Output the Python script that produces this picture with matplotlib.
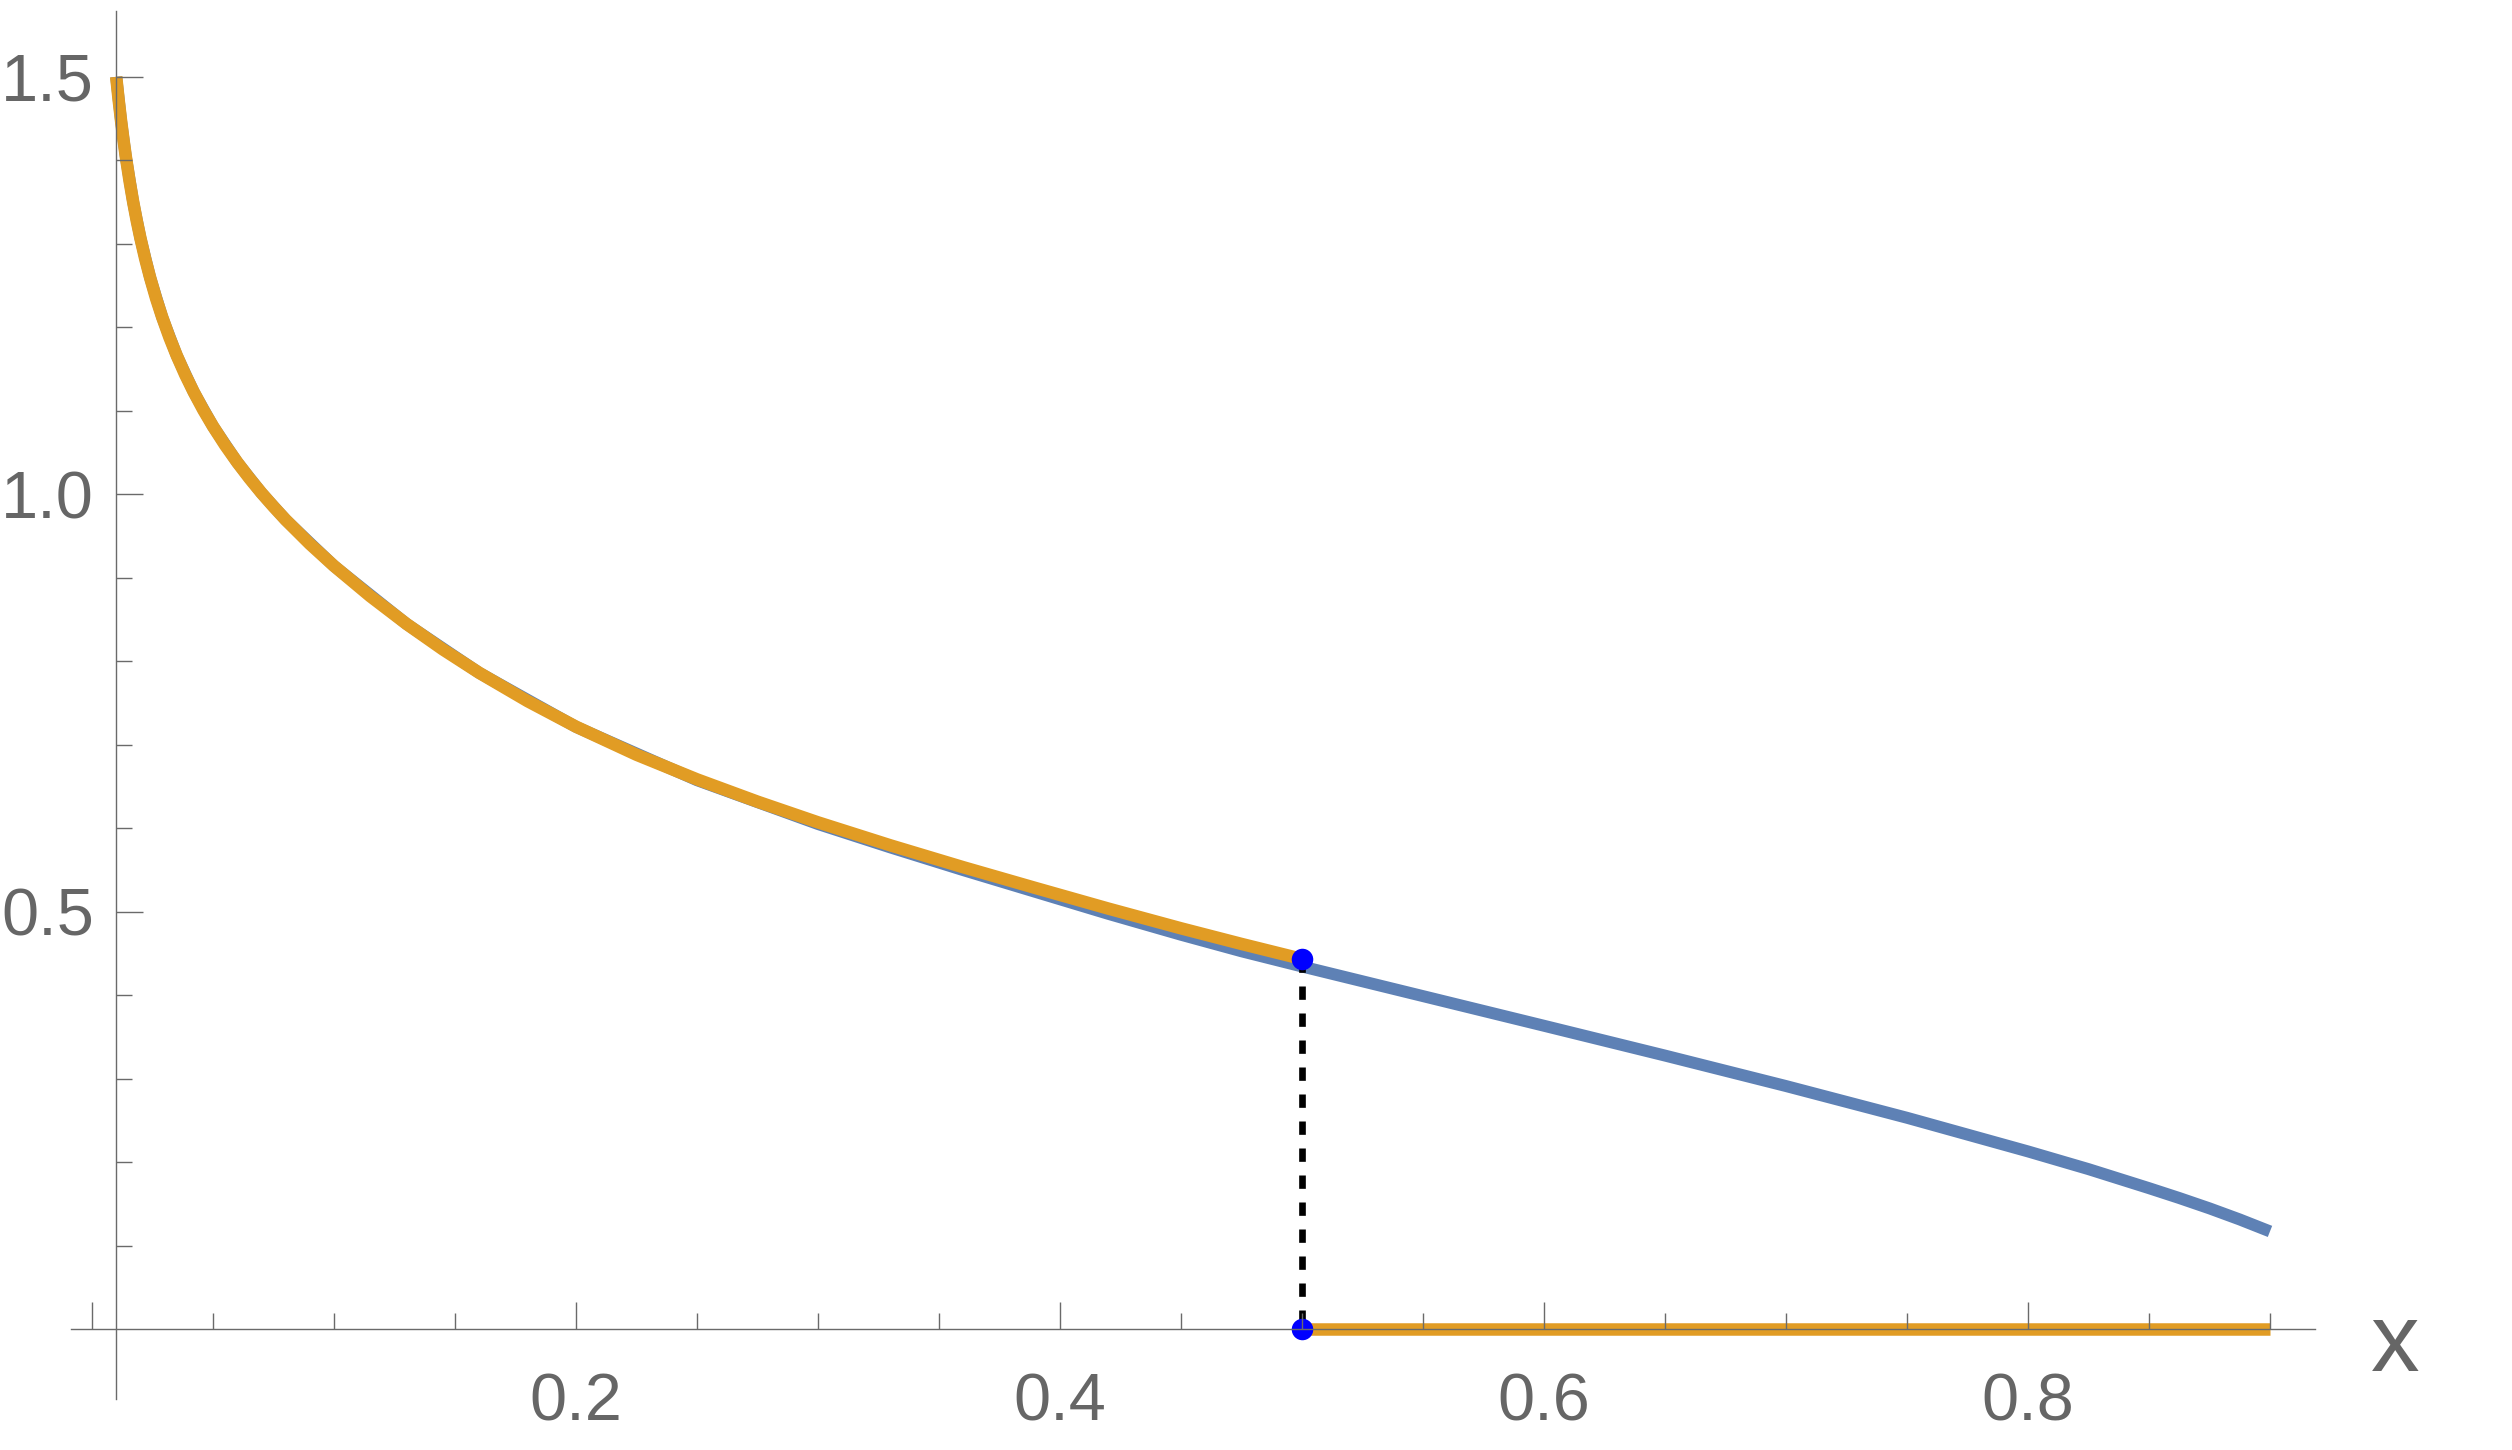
import matplotlib
matplotlib.use("Agg")
import matplotlib.pyplot as plt
from matplotlib.ticker import FixedLocator, FixedFormatter

# ---- data ----
orange_x = [0.010, 0.011, 0.012, 0.013, 0.014, 0.0155, 0.017, 0.0185, 0.020, 0.022,
            0.024, 0.0265, 0.029, 0.032, 0.035, 0.0385, 0.042, 0.046, 0.050, 0.055,
            0.060, 0.065, 0.070, 0.075, 0.080, 0.090, 0.100, 0.115, 0.130, 0.145,
            0.160, 0.180, 0.200, 0.225, 0.250, 0.275, 0.300, 0.330, 0.360, 0.390,
            0.420, 0.450, 0.475, 0.500]
orange_y = [1.5000, 1.4725, 1.4475, 1.4247, 1.4039, 1.3755, 1.3503, 1.3274, 1.3069, 1.2818,
            1.2597, 1.2344, 1.2122, 1.1879, 1.1663, 1.1433, 1.1227, 1.1010, 1.0814, 1.0589,
            1.0384, 1.0194, 1.0017, 0.9852, 0.9695, 0.9406, 0.9142, 0.8779, 0.8447, 0.8142,
            0.7862, 0.7523, 0.7217, 0.6881, 0.6586, 0.6319, 0.6071, 0.5795, 0.5534, 0.5284,
            0.5038, 0.4802, 0.4615, 0.4435]

blue_x = [0.010, 0.012, 0.014, 0.017, 0.020, 0.024, 0.029, 0.035, 0.042, 0.050,
          0.060, 0.070, 0.080, 0.100, 0.130, 0.160, 0.200, 0.250, 0.300, 0.330,
          0.360, 0.390, 0.420, 0.450, 0.475, 0.500, 0.550, 0.600, 0.650, 0.700,
          0.750, 0.800, 0.825, 0.850, 0.8625, 0.875, 0.8875, 0.900]
blue_y = [1.5000, 1.4475, 1.4039, 1.3503, 1.3069, 1.2597, 1.2122, 1.1663, 1.1227, 1.0814,
          1.0384, 1.0017, 0.9695, 0.9142, 0.8447, 0.7862, 0.7215, 0.6576, 0.6051, 0.5770,
          0.5499, 0.5237, 0.4975, 0.4725, 0.4527, 0.4345, 0.3990, 0.3635, 0.3278, 0.2913,
          0.2533, 0.2130, 0.1918, 0.1690, 0.1572, 0.1448, 0.1315, 0.1172]

step_x = [0.5, 0.9]
step_y = [0.0, 0.0]

point_x = [0.5, 0.5]
point_y = [0.4435, 0.0]

x_major = [0.0, 0.2, 0.4, 0.6, 0.8]
x_major_labels = ["", "0.2", "0.4", "0.6", "0.8"]
x_minor = [0.05, 0.1, 0.15, 0.25, 0.3, 0.35, 0.45, 0.5, 0.55, 0.65, 0.7, 0.75, 0.85, 0.9]
y_major = [0.5, 1.0, 1.5]
y_major_labels = ["0.5", "1.0", "1.5"]
y_minor = [0.1, 0.2, 0.3, 0.4, 0.6, 0.7, 0.8, 0.9, 1.1, 1.2, 1.3, 1.4]
axis_label = "x"

# ---- styling ----
BLUE = "#5e81b5"
ORANGE = "#e19c24"
GRAY = "#6a6a6a"
TEXT = "#666666"

plt.rcParams["font.family"] = ["Liberation Sans", "DejaVu Sans"]

fig = plt.figure(figsize=(25.12, 14.5), dpi=100)
ax = fig.add_axes([0.02811, 0.03524, 0.89327, 0.95738])

ax.plot(blue_x, blue_y, color=BLUE, lw=8.6, solid_capstyle="butt",
        solid_joinstyle="round", zorder=2.0)
ax.plot(orange_x, orange_y, color=ORANGE, lw=9.0, solid_capstyle="butt",
        solid_joinstyle="round", zorder=2.05)
ax.plot(step_x, step_y, color=ORANGE, lw=9.0, solid_capstyle="butt", zorder=2.05)
ax.plot(point_x, point_y, color="black", lw=4.8, linestyle=(0, (2.0, 2.05)),
        dash_capstyle="butt", zorder=2.1)
ax.plot(point_x, point_y, linestyle="none", marker="o", markersize=15.5,
        markerfacecolor="#0000ff", markeredgecolor="#0000ff", markeredgewidth=0,
        zorder=2.2)

ax.set_xlim(-0.00884, 0.9184)
ax.set_ylim(-0.0834, 1.5792)

for s in ["top", "right"]:
    ax.spines[s].set_visible(False)
ax.spines["left"].set_position(("data", 0.01))
ax.spines["bottom"].set_position(("data", 0.0))
for s in ["left", "bottom"]:
    ax.spines[s].set_color(GRAY)
    ax.spines[s].set_linewidth(1.0)
    ax.spines[s].set_zorder(2.5)
ax.set_axisbelow(False)

ax.xaxis.set_major_locator(FixedLocator(x_major))
ax.xaxis.set_major_formatter(FixedFormatter(x_major_labels))
ax.xaxis.set_minor_locator(FixedLocator(x_minor))
ax.yaxis.set_major_locator(FixedLocator(y_major))
ax.yaxis.set_major_formatter(FixedFormatter(y_major_labels))
ax.yaxis.set_minor_locator(FixedLocator(y_minor))

ax.tick_params(which="both", direction="in", color=GRAY, width=1.0)
ax.tick_params(which="major", length=19.5)
ax.tick_params(which="minor", length=11.5)
ax.tick_params(axis="x", which="major", pad=31, labelsize=48, labelcolor=TEXT)
ax.tick_params(axis="y", which="major", pad=16, labelsize=48, labelcolor=TEXT)

ax.text(0.9517, -0.050, axis_label, ha="center", va="baseline", fontsize=70,
        color=TEXT, clip_on=False)

fig.savefig("out.png", dpi=100, facecolor="white")
